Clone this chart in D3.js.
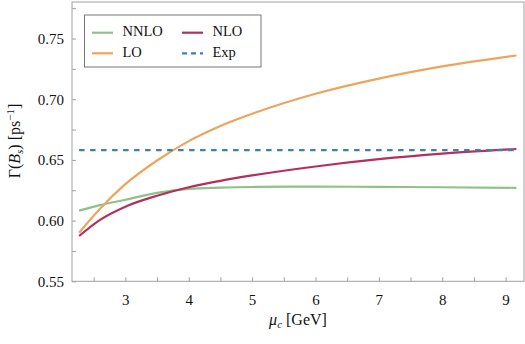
<!DOCTYPE html>
<html><head><meta charset="utf-8">
<script src="https://cdn.jsdelivr.net/npm/d3@7"></script>
<style>
body{margin:0;background:#fff;}
</style></head>
<body><svg id="c" width="525" height="344"></svg>
<script>
const mu       = [2.27, 2.6, 3.0, 3.5, 4.0, 4.5, 5.0, 6.0, 7.0, 8.0, 9.17];
const loVals   = [0.590, 0.6098, 0.630, 0.6495, 0.6655, 0.678, 0.688, 0.7045, 0.717, 0.727, 0.736];
const nloVals  = [0.5873, 0.6006, 0.6115, 0.6205, 0.6275, 0.6328, 0.6372, 0.6446, 0.6506, 0.6552, 0.659];
const nnloVals = [0.6082, 0.6127, 0.6172, 0.6228, 0.6262, 0.6272, 0.6277, 0.6280, 0.6278, 0.6275, 0.6270];
const expVal = 0.658;
const xTicks = [3, 4, 5, 6, 7, 8, 9];
const yTicks = [0.55, 0.60, 0.65, 0.70, 0.75];
const legendNames = ["NNLO", "NLO", "LO", "Exp"];

const FONT = "'Liberation Serif', 'DejaVu Serif', 'Times New Roman', serif";
const svg = d3.select("#c");
const L = 72, R = 524, T = 2, B = 281.3;
const x = d3.scaleLinear().domain([2.158, 9.29]).range([L, R]);
const y = d3.scaleLinear().domain([0.55, 0.7801]).range([B, T]);

const colors = {NNLO:"#8fc18a", LO:"#eca55c", NLO:"#b3305d", Exp:"#3f7db6"};
const frame = "#a0a0a0";

svg.append("rect").attr("x", L).attr("y", T).attr("width", R - L).attr("height", B - T)
  .attr("fill", "none").attr("stroke", frame).attr("stroke-width", 1);

const minorX = d3.range(2.5, 9.3, 0.5);
svg.append("g").attr("transform", `translate(0,${B})`)
  .call(d3.axisBottom(x).tickValues(minorX).tickSize(-4).tickFormat(""))
  .call(g => { g.select(".domain").remove(); g.selectAll("line").attr("stroke", frame); });
svg.append("g").attr("transform", `translate(0,${B})`)
  .call(d3.axisBottom(x).tickValues(xTicks).tickSize(0).tickPadding(13).tickFormat(d3.format("d")))
  .call(g => { g.select(".domain").remove(); g.selectAll("text").attr("font-size", 15).attr("fill", "#111"); });

const minorY = d3.range(0.55, 0.78, 0.025);
svg.append("g").attr("transform", `translate(${L},0)`)
  .call(d3.axisLeft(y).tickValues(minorY).tickSize(-4).tickFormat(""))
  .call(g => { g.select(".domain").remove(); g.selectAll("line").attr("stroke", frame); });
svg.append("g").attr("transform", `translate(${L},0)`)
  .call(d3.axisLeft(y).tickValues(yTicks).tickSize(0).tickPadding(8).tickFormat(d3.format(".2f")))
  .call(g => { g.select(".domain").remove(); g.selectAll("text").attr("font-size", 15).attr("fill", "#111"); });

const line = d3.line().x(d => x(d[0])).y(d => y(d[1])).curve(d3.curveMonotoneX);
const series = [["NNLO", nnloVals], ["LO", loVals], ["NLO", nloVals]];
series.forEach(([n, v]) => {
  svg.append("path").datum(mu.map((m, i) => [m, v[i]]))
    .attr("d", line).attr("fill", "none").attr("stroke", colors[n]).attr("stroke-width", 2.2);
});
svg.append("line").attr("x1", x(mu[0])).attr("x2", x(mu[mu.length - 1]))
  .attr("y1", y(expVal)).attr("y2", y(expVal))
  .attr("stroke", colors.Exp).attr("stroke-width", 2.2).attr("stroke-dasharray", "5.5,5.5");

const lg = svg.append("g");
lg.append("rect").attr("x", 84.5).attr("y", 15).attr("width", 176.5).attr("height", 52)
  .attr("fill", "#fff").attr("stroke", "#777").attr("stroke-width", 1);
const pos = [[92, 32.7], [182, 32.7], [92, 53.3], [182, 53.3]];
legendNames.forEach((n, i) => {
  const [lx, ly] = pos[i];
  lg.append("line").attr("x1", lx).attr("x2", lx + 21).attr("y1", ly).attr("y2", ly)
    .attr("stroke", colors[n]).attr("stroke-width", 2.2)
    .attr("stroke-dasharray", n === "Exp" ? "5,4" : null);
  lg.append("text").attr("x", lx + 30.5).attr("y", ly + 3.6).attr("font-size", 14.5)
    .attr("fill", "#111").text(n);
});

const xt = svg.append("text").attr("x", 298).attr("y", 325).attr("text-anchor", "middle")
  .attr("font-size", 16).attr("fill", "#111");
xt.append("tspan").attr("font-style", "italic").text("μ");
xt.append("tspan").attr("font-style", "italic").attr("font-size", 11).attr("dy", 3).text("c");
xt.append("tspan").attr("dy", -3).text(" [GeV]");

const yt = svg.append("text").attr("transform", "translate(20,141) rotate(-90)")
  .attr("text-anchor", "middle").attr("font-size", 16).attr("fill", "#111");
yt.append("tspan").text("Γ(");
yt.append("tspan").attr("font-style", "italic").text("B");
yt.append("tspan").attr("font-style", "italic").attr("font-size", 11).attr("dy", 3).text("s");
yt.append("tspan").attr("dy", -3).text(") [ps");
yt.append("tspan").attr("font-size", 11).attr("dy", -6).text("−1");
yt.append("tspan").attr("dy", 6).text("]");

svg.selectAll("text").style("font-family", FONT);
svg.selectAll("g").attr("font-family", null);
</script></body></html>
